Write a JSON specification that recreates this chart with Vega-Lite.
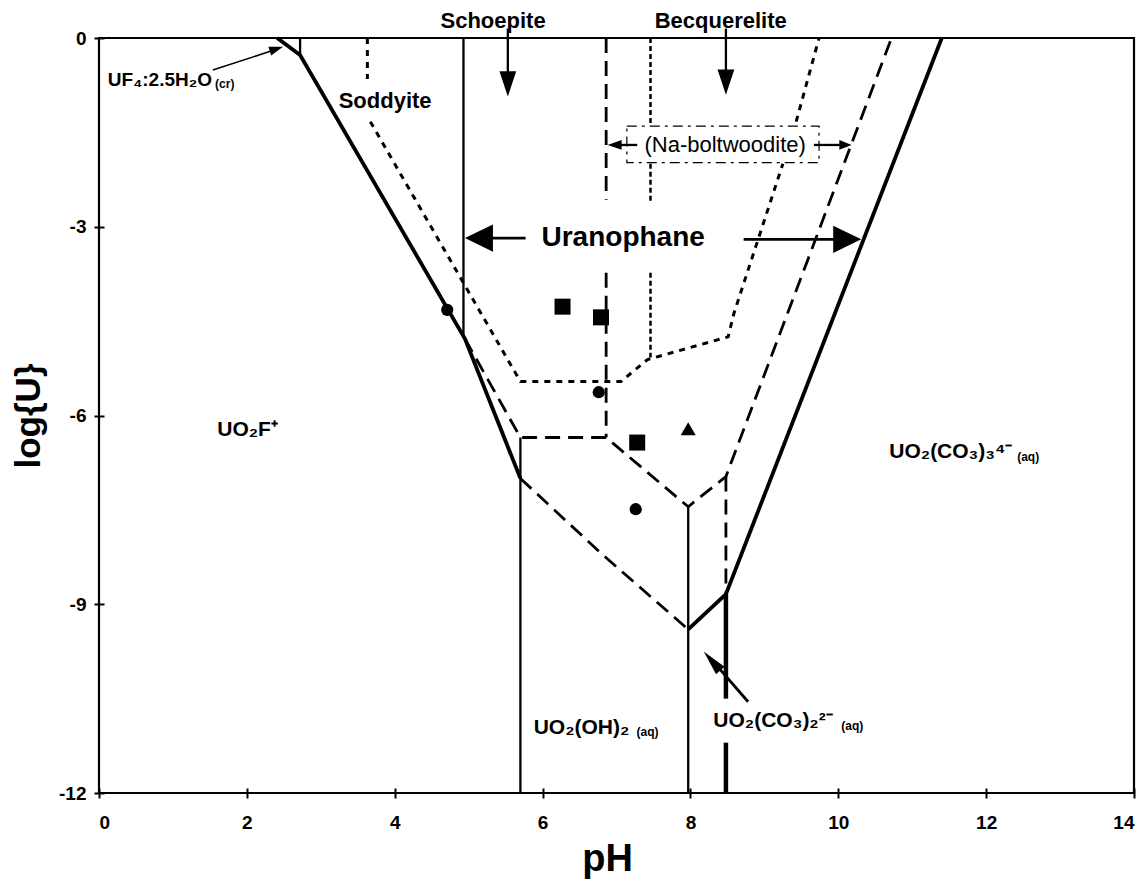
{
  "$schema": "https://vega.github.io/schema/vega-lite/v6.json",
  "width": 1035,
  "height": 755,
  "autosize": {"type": "none"},
  "padding": {"left": 99, "top": 38, "right": 10, "bottom": 95},
  "background": "white",
  "config": {
    "view": {"stroke": "black", "strokeWidth": 2.2},
    "axis": {
      "grid": false, "domain": false, "ticks": true, "tickSize": 10, "tickWidth": 2, "tickColor": "black", "offset": -5,
      "labelFont": "Liberation Sans", "labelFontWeight": "bold", "labelFontSize": 19, "labelColor": "black",
      "titleFont": "Liberation Sans", "titleFontWeight": "bold", "titleColor": "black"
    },
    "text": {"font": "Liberation Sans", "color": "black"}
  },
  "datasets": {
    "thick": [
      {"s": "a", "i": 0, "pH": 2.41, "logU": 0},
      {"s": "a", "i": 1, "pH": 2.72, "logU": -0.27},
      {"s": "a", "i": 2, "pH": 4.95, "logU": -4.78},
      {"s": "a", "i": 3, "pH": 5.7, "logU": -7.0},
      {"s": "b", "i": 0, "pH": 7.97, "logU": -9.4},
      {"s": "b", "i": 1, "pH": 8.48, "logU": -8.84},
      {"s": "b", "i": 2, "pH": 11.4, "logU": 0}
    ],
    "thickV": [
      {"s": "c", "i": 0, "pH": 8.48, "logU": -8.84},
      {"s": "c", "i": 1, "pH": 8.48, "logU": -10.5},
      {"s": "d", "i": 0, "pH": 8.48, "logU": -11.2},
      {"s": "d", "i": 1, "pH": 8.48, "logU": -12}
    ],
    "thin": [
      {"s": "uf4v", "i": 0, "pH": 2.72, "logU": 0},
      {"s": "uf4v", "i": 1, "pH": 2.72, "logU": -0.27},
      {"s": "sch", "i": 0, "pH": 4.93, "logU": 0},
      {"s": "sch", "i": 1, "pH": 4.93, "logU": -4.74},
      {"s": "v57", "i": 0, "pH": 5.7, "logU": -6.35},
      {"s": "v57", "i": 1, "pH": 5.7, "logU": -12},
      {"s": "v8", "i": 0, "pH": 7.97, "logU": -7.45},
      {"s": "v8", "i": 1, "pH": 7.97, "logU": -12},
      {"s": "aSch", "i": 0, "pH": 5.53, "logU": 0.15},
      {"s": "aSch", "i": 1, "pH": 5.53, "logU": -0.6},
      {"s": "aBec", "i": 0, "pH": 8.48, "logU": 0.15},
      {"s": "aBec", "i": 1, "pH": 8.48, "logU": -0.6},
      {"s": "aNL", "i": 0, "pH": 7.28, "logU": -1.7},
      {"s": "aNL", "i": 1, "pH": 6.95, "logU": -1.7},
      {"s": "aNR", "i": 0, "pH": 9.67, "logU": -1.7},
      {"s": "aNR", "i": 1, "pH": 10.05, "logU": -1.7}
    ],
    "arrow": [
      {"s": "aUL", "i": 0, "pH": 5.77, "logU": -3.18},
      {"s": "aUL", "i": 1, "pH": 5.2, "logU": -3.18},
      {"s": "aUR", "i": 0, "pH": 8.72, "logU": -3.2},
      {"s": "aUR", "i": 1, "pH": 10.0, "logU": -3.2},
      {"s": "aCO", "i": 0, "pH": 8.78, "logU": -10.55},
      {"s": "aCO", "i": 1, "pH": 8.3, "logU": -9.9}
    ],
    "arrowFine": [
      {"s": "aUF4", "i": 0, "pH": 1.54, "logU": -0.51},
      {"s": "aUF4", "i": 1, "pH": 2.4, "logU": -0.18}
    ],
    "dashed": [
      {"s": "d1", "i": 0, "pH": 4.95, "logU": -4.78},
      {"s": "d1", "i": 1, "pH": 5.7, "logU": -6.35},
      {"s": "d1", "i": 2, "pH": 6.86, "logU": -6.35},
      {"s": "d1", "i": 3, "pH": 7.97, "logU": -7.45},
      {"s": "d1", "i": 4, "pH": 8.48, "logU": -6.97},
      {"s": "d1", "i": 5, "pH": 10.72, "logU": 0},
      {"s": "d2a", "i": 0, "pH": 6.86, "logU": 0},
      {"s": "d2a", "i": 1, "pH": 6.86, "logU": -2.57},
      {"s": "d2b", "i": 0, "pH": 6.86, "logU": -3.73},
      {"s": "d2b", "i": 1, "pH": 6.86, "logU": -6.35},
      {"s": "d3", "i": 0, "pH": 8.48, "logU": -6.97},
      {"s": "d3", "i": 1, "pH": 8.48, "logU": -8.84},
      {"s": "d4", "i": 0, "pH": 5.7, "logU": -7.0},
      {"s": "d4", "i": 1, "pH": 6.8, "logU": -8.2},
      {"s": "d4", "i": 2, "pH": 7.97, "logU": -9.4}
    ],
    "dotted": [
      {"s": "s1", "i": 0, "pH": 3.63, "logU": 0},
      {"s": "s1", "i": 1, "pH": 3.63, "logU": -0.65},
      {"s": "s2", "i": 0, "pH": 3.67, "logU": -1.33},
      {"s": "s2", "i": 1, "pH": 5.7, "logU": -5.46},
      {"s": "s2", "i": 2, "pH": 7.06, "logU": -5.46},
      {"s": "s2", "i": 3, "pH": 7.42, "logU": -5.11},
      {"s": "s2", "i": 4, "pH": 8.51, "logU": -4.75},
      {"s": "s2", "i": 5, "pH": 8.59, "logU": -4.37},
      {"s": "s2", "i": 6, "pH": 9.25, "logU": -2.0},
      {"s": "s3", "i": 0, "pH": 9.43, "logU": -1.33},
      {"s": "s3", "i": 1, "pH": 9.74, "logU": 0}
    ],
    "dashdot": [
      {"s": "b1", "i": 0, "pH": 7.46, "logU": 0},
      {"s": "b1", "i": 1, "pH": 7.46, "logU": -1.37},
      {"s": "b2", "i": 0, "pH": 7.46, "logU": -2.0},
      {"s": "b2", "i": 1, "pH": 7.46, "logU": -2.6},
      {"s": "b3", "i": 0, "pH": 7.46, "logU": -3.73},
      {"s": "b3", "i": 1, "pH": 7.46, "logU": -5.08}
    ],
    "box": [{"pH": 7.14, "pH2": 9.74, "logU": -1.4, "logU2": -1.98}],
    "headLeftBig": [{"pH": 4.95, "logU": -3.18}],
    "headRightBig": [{"pH": 10.31, "logU": -3.2}],
    "headDown": [{"pH": 5.53, "logU": -0.93}, {"pH": 8.48, "logU": -0.9}],
    "headLeftSmall": [{"pH": 6.88, "logU": -1.7}],
    "headRightSmall": [{"pH": 10.18, "logU": -1.7}],
    "headUF4": [{"pH": 2.49, "logU": -0.14}],
    "headCO": [{"pH": 8.18, "logU": -9.75}],
    "squares": [{"pH": 6.27, "logU": -4.27}, {"pH": 6.79, "logU": -4.44}, {"pH": 7.28, "logU": -6.43}],
    "circles": [{"pH": 4.71, "logU": -4.32}, {"pH": 6.76, "logU": -5.63}, {"pH": 7.26, "logU": -7.49}],
    "triangles": [{"pH": 7.97, "logU": -6.21}],
    "formula": [
      {"pH": 1.6, "logU": -6.33, "label": "UO₂F⁺"},
      {"pH": 5.88, "logU": -11.06, "label": "UO₂(OH)₂"},
      {"pH": 8.31, "logU": -10.95, "label": "UO₂(CO₃)₂²⁻"},
      {"pH": 10.69, "logU": -6.67, "label": "UO₂(CO₃)₃⁴⁻"}
    ],
    "uf4": [{"pH": 0.12, "logU": -0.77, "label": "UF₄:2.5H₂O"}],
    "small": [
      {"pH": 7.27, "logU": -11.1, "label": "(aq)"},
      {"pH": 10.04, "logU": -11.0, "label": "(aq)"},
      {"pH": 12.42, "logU": -6.72, "label": "(aq)"},
      {"pH": 1.57, "logU": -0.8, "label": "(cr)"}
    ],
    "mineral": [
      {"pH": 3.87, "logU": -1.11, "label": "Soddyite"},
      {"pH": 5.33, "logU": 0.154, "label": "Schoepite"},
      {"pH": 8.41, "logU": 0.154, "label": "Becquerelite"}
    ],
    "urano": [{"pH": 7.09, "logU": -3.31, "label": "Uranophane"}],
    "na": [{"pH": 8.47, "logU": -1.81, "label": "(Na-boltwoodite)"}]
  },
  "encoding": {
    "x": {
      "field": "pH", "type": "quantitative",
      "scale": {"domain": [0, 14], "nice": false, "zero": false},
      "axis": {"values": [0, 2, 4, 6, 8, 10, 12, 14], "labelPadding": 15, "title": "pH", "titleFontSize": 38, "titlePadding": 8, "titleX": 508, "titleAlign": "center"}
    },
    "y": {
      "field": "logU", "type": "quantitative",
      "scale": {"domain": [-12, 0], "nice": false, "zero": false},
      "axis": {
        "values": [0, -3, -6, -9, -12], "labelPadding": 8, "title": "log{U}", "titleFontSize": 35, "titlePadding": 12,
        "labelExpr": "datum.value < 0 ? '-' + abs(datum.value) : '' + datum.value"
      }
    }
  },
  "layer": [
    {"data": {"name": "box"}, "mark": {"type": "rect", "fill": null, "stroke": "black", "strokeWidth": 1.2, "strokeDash": [10, 5, 3, 5]},
      "encoding": {"x2": {"field": "pH2"}, "y2": {"field": "logU2"}}},
    {"data": {"name": "thick"}, "mark": {"type": "line", "color": "black", "strokeWidth": 3.8},
      "encoding": {"detail": {"field": "s"}, "order": {"field": "i"}}},
    {"data": {"name": "thickV"}, "mark": {"type": "line", "color": "black", "strokeWidth": 4.5},
      "encoding": {"detail": {"field": "s"}, "order": {"field": "i"}}},
    {"data": {"name": "thin"}, "mark": {"type": "line", "color": "black", "strokeWidth": 2.3},
      "encoding": {"detail": {"field": "s"}, "order": {"field": "i"}}},
    {"data": {"name": "arrow"}, "mark": {"type": "line", "color": "black", "strokeWidth": 2.8},
      "encoding": {"detail": {"field": "s"}, "order": {"field": "i"}}},
    {"data": {"name": "arrowFine"}, "mark": {"type": "line", "color": "black", "strokeWidth": 1.5},
      "encoding": {"detail": {"field": "s"}, "order": {"field": "i"}}},
    {"data": {"name": "dashed"}, "mark": {"type": "line", "color": "black", "strokeWidth": 2.8, "strokeDash": [15, 8]},
      "encoding": {"detail": {"field": "s"}, "order": {"field": "i"}}},
    {"data": {"name": "dotted"}, "mark": {"type": "line", "color": "black", "strokeWidth": 3, "strokeDash": [6, 6]},
      "encoding": {"detail": {"field": "s"}, "order": {"field": "i"}}},
    {"data": {"name": "dashdot"}, "mark": {"type": "line", "color": "black", "strokeWidth": 2.5, "strokeDash": [5, 3]},
      "encoding": {"detail": {"field": "s"}, "order": {"field": "i"}}},
    {"data": {"name": "headLeftBig"}, "mark": {"type": "point", "shape": "M0,0L4,-1.95L4,1.95Z", "size": 196, "filled": true, "color": "black", "opacity": 1, "strokeWidth": 0}},
    {"data": {"name": "headRightBig"}, "mark": {"type": "point", "shape": "M0,0L-4,-1.95L-4,1.95Z", "size": 196, "filled": true, "color": "black", "opacity": 1, "strokeWidth": 0}},
    {"data": {"name": "headDown"}, "mark": {"type": "point", "shape": "M0,0L-1.2,-3.6L1.2,-3.6Z", "size": 196, "filled": true, "color": "black", "opacity": 1, "strokeWidth": 0}},
    {"data": {"name": "headLeftSmall"}, "mark": {"type": "point", "shape": "M0,0L4,-1.4L4,1.4Z", "size": 49, "filled": true, "color": "black", "opacity": 1, "strokeWidth": 0}},
    {"data": {"name": "headRightSmall"}, "mark": {"type": "point", "shape": "M0,0L-3.5,-1.4L-3.5,1.4Z", "size": 49, "filled": true, "color": "black", "opacity": 1, "strokeWidth": 0}},
    {"data": {"name": "headUF4"}, "mark": {"type": "point", "shape": "M0,0L-4,-1.3L-4,1.3Z", "size": 49, "angle": -18, "filled": true, "color": "black", "opacity": 1, "strokeWidth": 0}},
    {"data": {"name": "headCO"}, "mark": {"type": "point", "shape": "M0,0L-3.6,-0.8L-3.6,0.8Z", "size": 196, "angle": -131, "filled": true, "color": "black", "opacity": 1, "strokeWidth": 0}},
    {"data": {"name": "squares"}, "mark": {"type": "point", "shape": "square", "size": 256, "filled": true, "color": "black", "opacity": 1, "strokeWidth": 0}},
    {"data": {"name": "circles"}, "mark": {"type": "point", "shape": "circle", "size": 150, "filled": true, "color": "black", "opacity": 1, "strokeWidth": 0}},
    {"data": {"name": "triangles"}, "mark": {"type": "point", "shape": "triangle-up", "size": 225, "filled": true, "color": "black", "opacity": 1, "strokeWidth": 0}},
    {"data": {"name": "formula"}, "mark": {"type": "text", "align": "left", "baseline": "alphabetic", "fontSize": 21, "fontWeight": "bold"},
      "encoding": {"text": {"field": "label"}}},
    {"data": {"name": "uf4"}, "mark": {"type": "text", "align": "left", "baseline": "alphabetic", "fontSize": 19, "fontWeight": "bold"},
      "encoding": {"text": {"field": "label"}}},
    {"data": {"name": "small"}, "mark": {"type": "text", "align": "left", "baseline": "alphabetic", "fontSize": 12, "fontWeight": "bold"},
      "encoding": {"text": {"field": "label"}}},
    {"data": {"name": "mineral"}, "mark": {"type": "text", "align": "center", "baseline": "alphabetic", "fontSize": 22, "fontWeight": "bold"},
      "encoding": {"text": {"field": "label"}}},
    {"data": {"name": "urano"}, "mark": {"type": "text", "align": "center", "baseline": "alphabetic", "fontSize": 28, "fontWeight": "bold"},
      "encoding": {"text": {"field": "label"}}},
    {"data": {"name": "na"}, "mark": {"type": "text", "align": "center", "baseline": "alphabetic", "fontSize": 22, "fontWeight": "normal"},
      "encoding": {"text": {"field": "label"}}}
  ]
}
